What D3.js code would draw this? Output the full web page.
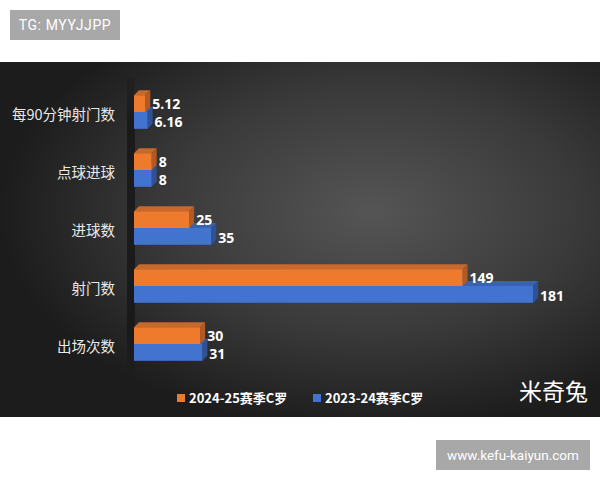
<!DOCTYPE html>
<html>
<head>
<meta charset="utf-8">
<script src="https://cdn.jsdelivr.net/npm/d3@7"></script>
<style>
  body { margin: 0; background: #fff; }
  svg { display: block; font-family: "Noto Sans CJK SC", "Noto Sans", sans-serif; }
</style>
</head>
<body>
<svg id="chart" width="600" height="480"></svg>
<script>
// chart data
var categories = ["每90分钟射门数", "点球进球", "进球数", "射门数", "出场次数"];
var seriesNames = ["2024-25赛季C罗", "2023-24赛季C罗"];
var values2425 = [5.12, 8, 25, 149, 30];
var values2324 = [6.16, 8, 35, 181, 31];
var labels2425 = ["5.12", "8", "25", "149", "30"];
var labels2324 = ["6.16", "8", "35", "181", "31"];

var colors = {
    front: ["#ee7a2e", "#4173cf"],
    top: ["#c8682c", "#3a62ad"],
    side: ["#b35a22", "#2f5296"]
};
var depth = 5;

var svg = d3.select("#chart");
var defs = svg.append("defs");

//Background glow of the dark panel
var grad = defs.append("radialGradient")
    .attr("id", "bg")
    .attr("cx", "62%").attr("cy", "42%").attr("r", "62%");
grad.append("stop").attr("offset", "0%").attr("stop-color", "#555555");
grad.append("stop").attr("offset", "55%").attr("stop-color", "#3a3a3a");
grad.append("stop").attr("offset", "100%").attr("stop-color", "#1c1c1c");

var wallGrad = defs.append("linearGradient")
    .attr("id", "wall").attr("x1", "0").attr("x2", "0").attr("y1", "0").attr("y2", "1");
wallGrad.append("stop").attr("offset", "0%").attr("stop-color", "#151515").attr("stop-opacity", 0.2);
wallGrad.append("stop").attr("offset", "15%").attr("stop-color", "#151515").attr("stop-opacity", 0.8);
wallGrad.append("stop").attr("offset", "85%").attr("stop-color", "#151515").attr("stop-opacity", 0.8);
wallGrad.append("stop").attr("offset", "100%").attr("stop-color", "#151515").attr("stop-opacity", 0.2);

svg.append("rect")
    .attr("x", 0).attr("y", 62)
    .attr("width", 600).attr("height", 355)
    .attr("fill", "url(#bg)");

// scales
var x = d3.scaleLinear().domain([0, 200]).range([134, 575]);
var y = d3.scaleBand()
    .domain(categories)
    .range([83, 373])
    .paddingInner(0.42)
    .paddingOuter(0.21);
var ySub = d3.scaleBand()
    .domain(seriesNames)
    .range([0, y.bandwidth()]);

// the shadowed axis wall
svg.append("rect")
    .attr("x", x(0) - 7).attr("y", 78)
    .attr("width", 8).attr("height", 295)
    .attr("fill", "url(#wall)");

// category labels
svg.append("g")
    .selectAll("text")
    .data(categories)
    .enter().append("text")
    .attr("x", 115)
    .attr("y", function (d) { return y(d) + y.bandwidth() / 2 + 3; })
    .attr("dy", "0.35em")
    .attr("text-anchor", "end")
    .attr("fill", "#e8e8e8")
    .style("font-size", "14.5px")
    .text(function (d) { return d; });

// rows: one per series, blue drawn first so the orange front covers its top
var rows = [];
categories.forEach(function (c, i) {
    rows.push({cat: c, s: 1, value: values2324[i], label: labels2324[i]});
    rows.push({cat: c, s: 0, value: values2425[i], label: labels2425[i]});
});

var bars = svg.append("g").selectAll("g.bar")
    .data(rows)
    .enter().append("g")
    .attr("class", "bar");

bars.each(function (d) {
    var g = d3.select(this);
    var x0 = x(0), x1 = x(d.value);
    var y0 = y(d.cat) + ySub(seriesNames[d.s]);
    var h = ySub.bandwidth();
    // top face
    g.append("path")
        .attr("d", "M" + x0 + "," + y0 + "L" + (x0 + depth) + "," + (y0 - depth) +
            "L" + (x1 + depth) + "," + (y0 - depth) + "L" + x1 + "," + y0 + "Z")
        .attr("fill", colors.top[d.s]);
    // side face
    g.append("path")
        .attr("d", "M" + x1 + "," + y0 + "L" + (x1 + depth) + "," + (y0 - depth) +
            "L" + (x1 + depth) + "," + (y0 + h - depth) + "L" + x1 + "," + (y0 + h) + "Z")
        .attr("fill", colors.side[d.s]);
    // front face
    g.append("rect")
        .attr("x", x0).attr("y", y0)
        .attr("width", x1 - x0).attr("height", h)
        .attr("fill", colors.front[d.s]);
});

// value labels, nudged apart a little so the pair doesn't collide
svg.append("g").selectAll("text")
    .data(rows)
    .enter().append("text")
    .attr("x", function (d) { return x(d.value) + depth + 2; })
    .attr("y", function (d) {
        var nudge = d.s == 0 ? 0 : 2;
        return y(d.cat) + ySub(seriesNames[d.s]) + ySub.bandwidth() / 2 + nudge;
    })
    .attr("dy", "0.36em")
    .attr("fill", "#ffffff")
    .style("font-family", "'Open Sans', 'Noto Sans', sans-serif")
    .style("font-size", "14px")
    .style("font-weight", "bold")
    .text(function (d) { return d.label; });

// legend
var legendX = [177, 313];
var legend = svg.append("g").selectAll("g")
    .data(seriesNames)
    .enter().append("g")
    .attr("transform", function (d, i) { return "translate(" + legendX[i] + ",398)"; });
legend.append("rect")
    .attr("x", 0).attr("y", -4)
    .attr("width", 8).attr("height", 8)
    .attr("fill", function (d, i) { return colors.front[i]; });
legend.append("text")
    .attr("x", 12)
    .attr("dy", "0.35em")
    .attr("fill", "#ffffff")
    .style("font-size", "13px")
    .style("font-weight", "bold")
    .text(function (d) { return d; });

svg.append("text")
    .attr("x", 588).attr("y", 392)
    .attr("dy", "0.35em")
    .attr("text-anchor", "end")
    .attr("fill", "#ffffff")
    .style("font-size", "23px")
    .text("米奇兔");

// watermark boxes
svg.append("rect")
    .attr("x", 10).attr("y", 10).attr("width", 110).attr("height", 30)
    .attr("fill", "#a8a8a8");
svg.append("text")
    .attr("x", 65).attr("y", 25).attr("dy", "0.35em")
    .attr("text-anchor", "middle")
    .attr("fill", "#ffffff")
    .style("font-family", "Roboto, sans-serif")
    .style("font-size", "14px")
    .style("letter-spacing", "0.6px")
    .text("TG: MYYJJPP");

svg.append("rect")
    .attr("x", 436).attr("y", 440).attr("width", 154).attr("height", 30)
    .attr("fill", "#a8a8a8");
svg.append("text")
    .attr("x", 513).attr("y", 455).attr("dy", "0.35em")
    .attr("text-anchor", "middle")
    .attr("fill", "#ffffff")
    .style("font-family", "Roboto, sans-serif")
    .style("font-size", "13.5px")
    .text("www.kefu-kaiyun.com");
</script>
</body>
</html>
